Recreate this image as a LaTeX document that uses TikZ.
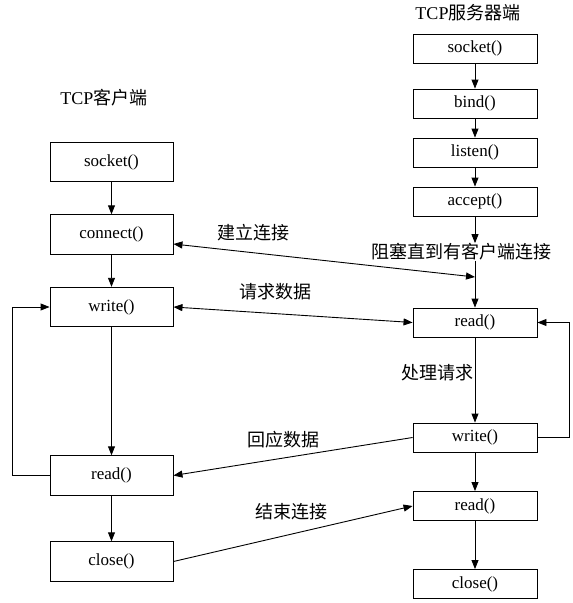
\documentclass[tikz,border=0pt]{standalone}
\usepackage{fontspec}
\setmainfont{Liberation Serif}
\newfontfamily\cjk{Noto Sans CJK SC}
\usetikzlibrary{arrows.meta}
\begin{document}
\begin{tikzpicture}[x=1pt,y=1pt,
  every path/.style={line width=0.9pt},
  tip/.style={-{Triangle[length=9pt,width=7pt]}},
  dtip/.style={{Triangle[length=9pt,width=7pt]}-{Triangle[length=9pt,width=7pt]}},
  cbox/.style={draw,line width=0.9pt,minimum width=123pt,minimum height=39.5pt,inner sep=0pt,font=\fontsize{17}{17}\selectfont},
  sbox/.style={draw,line width=0.9pt,minimum width=124pt,minimum height=29pt,inner sep=0pt,font=\fontsize{17}{17}\selectfont},
  lbl/.style={inner sep=0pt,font=\fontsize{18}{18}\selectfont}]
\useasboundingbox (0,0) rectangle (573,-603);
% titles
\node[lbl] (tc) at (104,-98) {TCP{\cjk 客户端}};
\node[lbl] (ts) at (468,-13) {TCP{\cjk 服务器端}};
% client boxes
\node[cbox] (csock)  at (111.5,-162)   {socket()};
\node[cbox] (cconn)  at (111.5,-234.5) {connect()};
\node[cbox] (cwrite) at (111.5,-307)   {write()};
\node[cbox] (cread)  at (111.5,-475.5) {read()};
\node[cbox] (cclose) at (111.5,-561.5) {close()};
% server boxes
\node[sbox] (ssock)   at (475,-48.5)  {socket()};
\node[sbox] (sbind)   at (475,-103.5) {bind()};
\node[sbox] (slisten) at (475,-152.5) {listen()};
\node[sbox] (saccept) at (475,-201.5) {accept()};
\node[lbl]  (blk)     at (461.5,-252) {\cjk 阻塞直到有客户端连接};
\node[sbox] (sread)   at (475,-322.5) {read()};
\node[sbox] (swrite)  at (475,-437.5) {write()};
\node[sbox] (sread2)  at (475,-506)   {read()};
\node[sbox] (sclose)  at (475,-584)   {close()};
\coordinate (cj) at (475,-277);
% message labels
\node[lbl] (l1) at (253,-233) {\cjk 建立连接};
\node[lbl] (l2) at (275,-292) {\cjk 请求数据};
\node[lbl] (l3) at (283,-440) {\cjk 回应数据};
\node[lbl] (l4) at (291,-512) {\cjk 结束连接};
\node[lbl] (l5) at (437,-373) {\cjk 处理请求};
% client flow
\draw[tip] (csock) -- (cconn);
\draw[tip] (cconn) -- (cwrite);
\draw[tip] (cwrite) -- (cread);
\draw[tip] (cread) -- (cclose);
\draw[tip] (cread.west) -- ++(-37,0) |- (cwrite.west);
% server flow
\draw[tip] (ssock) -- (sbind);
\draw[tip] (sbind) -- (slisten);
\draw[tip] (slisten) -- (saccept);
\draw[tip] (saccept.south) -- (saccept.south |- blk.north);
\draw[tip] (saccept.south |- blk.south) -- (sread.north);
\draw[tip] (sread) -- (swrite);
\draw[tip] (swrite) -- (sread2);
\draw[tip] (sread2) -- (sclose);
\draw[tip] (swrite.east) -- ++(32,0) |- (sread.east);
% messages
\draw[dtip] ([yshift=-9.5pt]cconn.east) -- (cj);
\draw[dtip] (cwrite.east) -- (sread.west);
\draw[tip] (swrite.west) -- (cread.east);
\draw[tip] (cclose.east) -- (sread2.west);
\end{tikzpicture}
\end{document}
